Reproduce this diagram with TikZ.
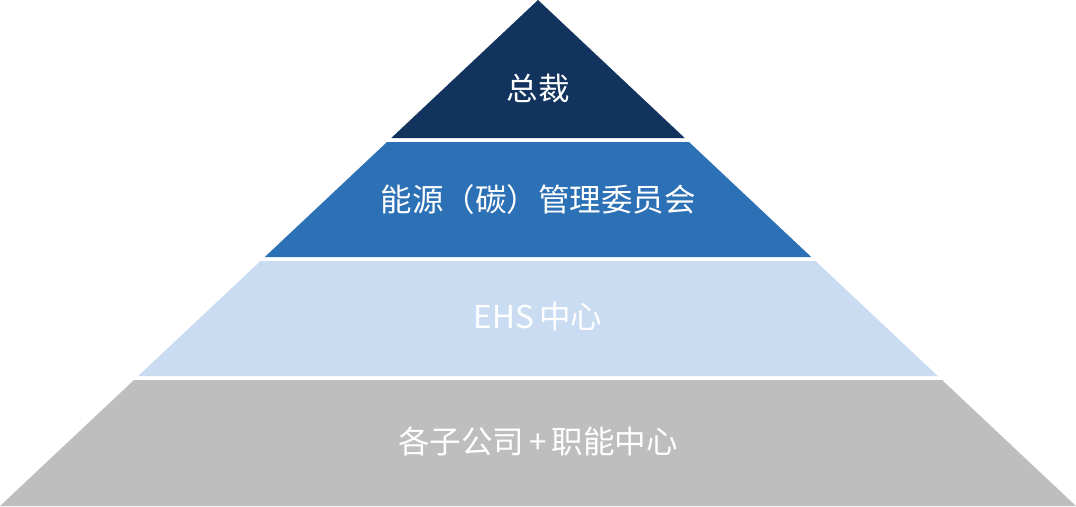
\documentclass[tikz,border=0pt]{standalone}
\usepackage{fontspec}
\newfontfamily\cjk{Noto Sans CJK SC}
\definecolor{navy}{HTML}{12335E}
\definecolor{midblue}{HTML}{2C70B6}
\definecolor{paleblue}{HTML}{C9DCF1}
\definecolor{stone}{HTML}{BDBEBD}
\begin{document}
\begin{tikzpicture}[x=1pt,y=-1pt]
  \tikzset{layer/.style = {draw=none}}
  \tikzset{label/.style = {text=white,font=\cjk\fontsize{31.5}{36}\selectfont,inner sep=0pt}}

  \useasboundingbox (0,0) rectangle (1076,506);

  % layers: top / bottom / colour
  \foreach \t/\b/\c in {0/138/navy, 142/257/midblue, 261/376/paleblue, 380/506/stone}
    \fill[layer,\c] ({538-1.0632*\t},\t) -- ({538+1.0632*\t},\t)
      -- ({538+1.0632*\b},\b) -- ({538-1.0632*\b},\b) -- cycle;

	\node[label] (T) at (538,88) {总裁};
	\node[label] (C) at (538,200) {能源（碳）管理委员会};
	\node[label] (E) at (538,317) {EHS\hspace{0.18em}中心};
	\node[label] (S) at (538,441) {各子公司\,+\,职能中心};
\end{tikzpicture}
\end{document}
